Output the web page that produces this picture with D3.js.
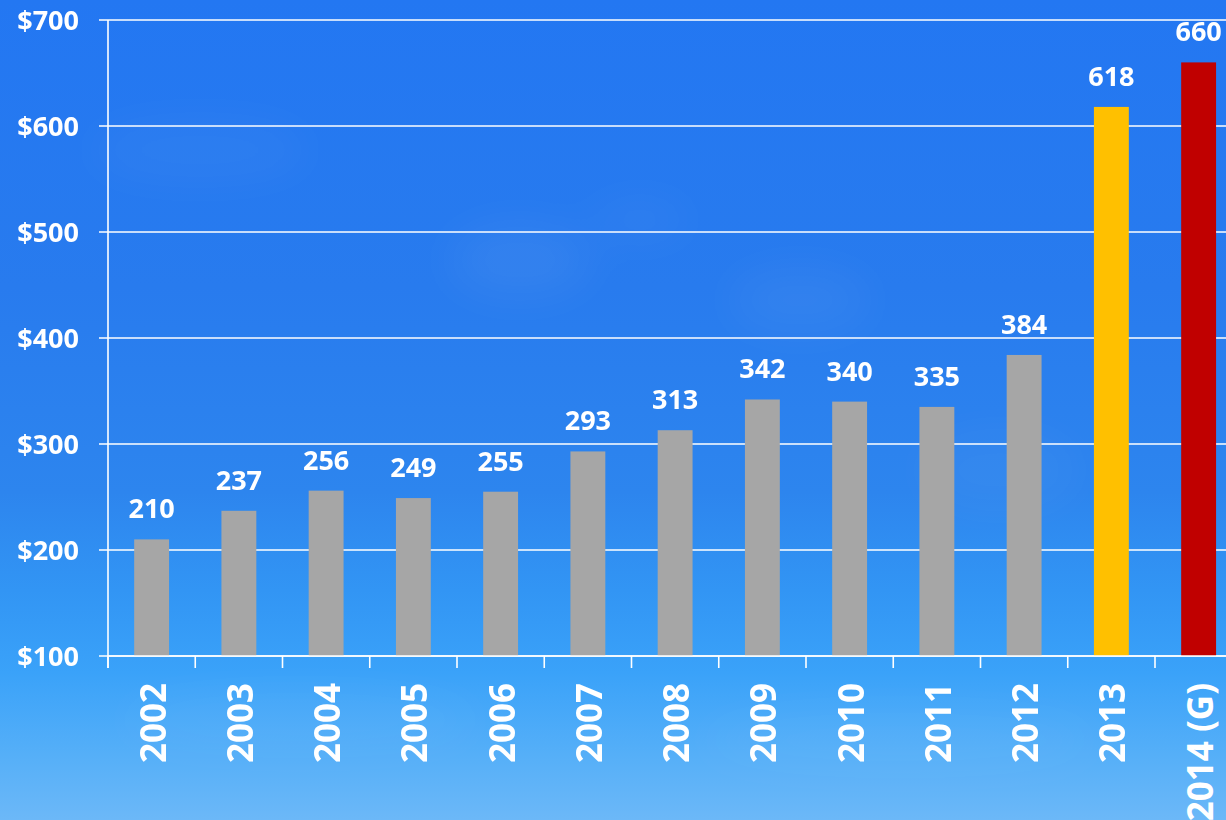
<!DOCTYPE html>
<html>
<head>
<meta charset="utf-8">
<script src="https://cdn.jsdelivr.net/npm/d3@7"></script>
<style>
  html, body { margin: 0; padding: 0; background: #2a7cec; }
  svg { display: block; }
</style>
</head>
<body>
<svg id="chart" width="1226" height="820"></svg>
<script>
// Annual values by year; the last year is a guidance figure
const years = ["2002", "2003", "2004", "2005", "2006", "2007", "2008", "2009", "2010", "2011", "2012", "2013", "2014 (G)"];
const values = [210, 237, 256, 249, 255, 293, 313, 342, 340, 335, 384, 618, 660];
const barColors = ["#a6a6a6", "#a6a6a6", "#a6a6a6", "#a6a6a6", "#a6a6a6", "#a6a6a6", "#a6a6a6", "#a6a6a6", "#a6a6a6", "#a6a6a6", "#a6a6a6", "#ffc000", "#c00000"];
const yTicks = [100, 200, 300, 400, 500, 600, 700];

const W = 1226, H = 820;
const svg = d3.select("#chart");

// sky background
const defs = svg.append("defs");
const grad = defs.append("linearGradient").attr("id", "sky").attr("x1", 0).attr("y1", 0).attr("x2", 0).attr("y2", 1);
[[0, "#2377f2"], [0.35, "#287bee"], [0.6, "#2d85ee"], [0.72, "#3295f4"], [0.82, "#3aa2f9"], [0.92, "#55aff8"], [1, "#6cb8f8"]]
  .forEach(([o, c]) => grad.append("stop").attr("offset", o).attr("stop-color", c));
svg.append("rect").attr("width", W).attr("height", H).attr("fill", "url(#sky)");

// faint wisps of cloud
const blur = defs.append("filter").attr("id", "soft").attr("x", "-50%").attr("y", "-50%").attr("width", "200%").attr("height", "200%");
blur.append("feGaussianBlur").attr("stdDeviation", 22);
const clouds = svg.append("g").attr("filter", "url(#soft)").attr("fill", "#ffffff");
[[520, 260, 70, 35, 0.06], [800, 300, 70, 30, 0.05], [200, 150, 110, 30, 0.04], [640, 220, 50, 20, 0.04], [1000, 470, 80, 40, 0.04], [300, 720, 180, 30, 0.04], [900, 740, 200, 30, 0.04]]
  .forEach(([cx, cy, rx, ry, op]) => clouds.append("ellipse").attr("cx", cx).attr("cy", cy).attr("rx", rx).attr("ry", ry).attr("opacity", op));

const x0 = 108, y0 = 656, yTop = 20;
const x = d3.scaleBand().domain(years).range([x0, x0 + 87.25 * years.length]).padding(0);
const y = d3.scaleLinear().domain([100, 700]).range([y0, yTop]);

const font = "'Open Sans', 'DejaVu Sans', sans-serif";
const g = svg.append("g");

// horizontal gridlines with short left ticks
g.selectAll("line.grid").data(yTicks).join("line")
  .attr("class", "grid")
  .attr("x1", x0 - 9).attr("x2", W)
  .attr("y1", d => y(d)).attr("y2", d => y(d))
  .attr("stroke", "#ffffff").attr("stroke-width", 1.6);

// y tick labels
g.selectAll("text.ylab").data(yTicks).join("text")
  .attr("class", "ylab")
  .attr("x", 79).attr("y", d => y(d) + 9.5)
  .attr("text-anchor", "end")
  .attr("font-family", font).attr("font-weight", 700).attr("font-size", 27)
  .attr("fill", "#ffffff")
  .text(d => "$" + d);

// vertical axis line
g.append("line")
  .attr("x1", x0).attr("x2", x0).attr("y1", y(700)).attr("y2", y0 + 12)
  .attr("stroke", "#ffffff").attr("stroke-width", 1.6);

// bars
const bw = x.bandwidth() * 0.4;
g.selectAll("rect.bar").data(years).join("rect")
  .attr("class", "bar")
  .attr("x", d => x(d) + (x.bandwidth() - bw) / 2)
  .attr("width", bw)
  .attr("y", (d, i) => y(values[i]))
  .attr("height", (d, i) => y0 - y(values[i]))
  .attr("fill", (d, i) => barColors[i]);

// category boundary ticks
const tickXs = years.map(d => x(d)).concat([x(years[years.length - 1]) + x.bandwidth()]);
g.selectAll("line.xtick").data(tickXs).join("line")
  .attr("class", "xtick")
  .attr("x1", d => d).attr("x2", d => d)
  .attr("y1", y0).attr("y2", y0 + 12)
  .attr("stroke", "#ffffff").attr("stroke-width", 1.6);

// baseline
g.append("line")
  .attr("x1", x0).attr("x2", W).attr("y1", y0).attr("y2", y0)
  .attr("stroke", "#ffffff").attr("stroke-width", 1.6);

// value labels
g.selectAll("text.val").data(years).join("text")
  .attr("class", "val")
  .attr("x", d => x(d) + x.bandwidth() / 2)
  .attr("y", (d, i) => y(values[i]) - 21)
  .attr("text-anchor", "middle")
  .attr("font-family", font).attr("font-weight", 700).attr("font-size", 27)
  .attr("fill", "#ffffff")
  .text((d, i) => values[i]);

// rotated year labels
g.selectAll("text.xlab").data(years).join("text")
  .attr("class", "xlab")
  .attr("transform", d => `translate(${x(d) + x.bandwidth() / 2 + 14},683) rotate(-90)`)
  .attr("text-anchor", "end")
  .attr("font-family", font).attr("font-weight", 700).attr("font-size", 35)
  .attr("fill", "#ffffff")
  .text(d => d);
</script>
</body>
</html>
